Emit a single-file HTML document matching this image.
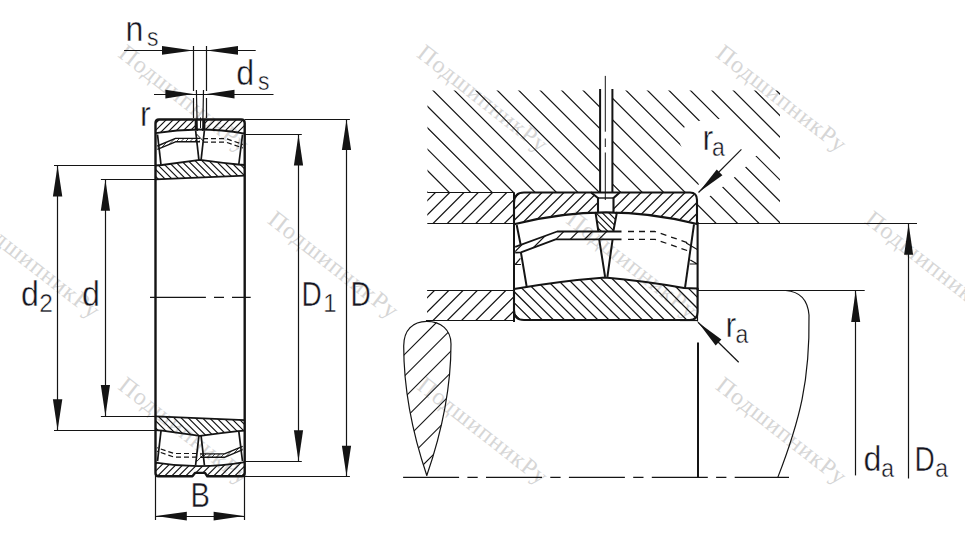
<!DOCTYPE html>
<html><head><meta charset="utf-8"><style>
html,body{margin:0;padding:0;background:#fff;}
svg{display:block;}
text{font-family:"Liberation Sans",sans-serif;fill:#151520;stroke:#fff;stroke-width:0.45px;}
.wm{stroke:none;}
.wm{font-family:"Liberation Serif",serif;fill:#d6d6d6;}
</style></head><body>
<svg width="965" height="537" viewBox="0 0 965 537">
<rect width="965" height="537" fill="#fff"/>
<defs><clipPath id="c1"><path d="M155.5 119.5 H195.6 V131 Q200 129.5 204.4 131 V119.5 H244.7 V133.6 Q200 125.65 155.5 133.1 Z"/></clipPath>
<clipPath id="c2"><path d="M155.5 476.20 H192.4 L195 472.70 H205 L207.3 476.20 H244.7 V462.10 Q200 470.05 155.5 462.60 Z"/></clipPath>
<clipPath id="c3"><path d="M155.5 165.5 L162 165 Q180 162.5 200 159.8 Q220 162.5 238 164.5 L244.7 165 V175.6 L155.5 179.4 Z"/></clipPath>
<clipPath id="c4"><path d="M155.5 430.20 L162 430.70 Q180 433.20 200 435.90 Q220 433.20 238 431.20 L244.7 430.70 V420.10 L155.5 416.30 Z"/></clipPath>
<clipPath id="c5"><path d="M157.3 146 L175.5 138.4 H200 V141.8 H175.5 L157.3 149.4 Z"/></clipPath>
<clipPath id="c6"><path d="M242.7 449.7 L224.5 457.3 H200 V453.9 H224.5 L242.7 446.3 Z"/></clipPath>
<clipPath id="c7"><path clip-rule="evenodd" d="M427.5 90.5 H600.1 V192.3 H427.5 Z M612.4 90.5 H780 V223.5 H697 V192.3 H612.4 Z M699 184.2 L680.2 144.3 L684.5 126.8 L699.6 120.7 L719.6 118.9 L725 113 L766 154 L755.6 156.1 L745.6 167 L734.7 177 L723.2 186.6 L710.5 195.7 L704 199 L694 189 Z"/></clipPath>
<clipPath id="c8"><path d="M427.3 192.3 H514 V223.3 H427.3 Z"/></clipPath>
<clipPath id="c9"><path d="M427.1 290.1 H514 V320.8 H427.1 Z"/></clipPath>
<clipPath id="c10"><path d="M514 224.3 V203 Q514 192.5 524 192.5 H591 L598 198 V212.6 Q605.5 211.5 613.5 212.6 V198 L619.7 192.5 H690 Q697 192.5 697 200 V224 Q605.5 200.55 514 224.3 Z"/></clipPath>
<clipPath id="c11"><path d="M514 289 Q560 281 605 277.5 Q645 281 684 288 L697.6 288.5 V312 Q697.6 320 689.6 320 H524 Q514 320 514 310 Z"/></clipPath>
<clipPath id="c12"><path d="M595.4 212 L617 212 L613.3 231.5 L598.4 231.5 Z"/></clipPath>
<clipPath id="c13"><path d="M515.2 246.9 L557.2 231.5 H621.5 V239.3 H555.6 L520.9 252.3 L515.2 252.6 Z"/></clipPath>
<clipPath id="c14"><path d="M426.7 321.3 C441 321.3 451 330 451 344 C451 380 446 420 426.8 475.5 C408 420 403.7 380 403.7 346 C403.7 330 413 321.3 426.7 321.3 Z"/></clipPath></defs>
<text class="wm" font-size="24" letter-spacing="1.0" transform="translate(117.0 56.1) rotate(38)">ПодшипникРу</text>
<text class="wm" font-size="24" letter-spacing="1.0" transform="translate(415.7 56.1) rotate(38)">ПодшипникРу</text>
<text class="wm" font-size="24" letter-spacing="1.0" transform="translate(714.4 56.1) rotate(38)">ПодшипникРу</text>
<text class="wm" font-size="24" letter-spacing="1.0" transform="translate(-32.3 222.2) rotate(38)">ПодшипникРу</text>
<text class="wm" font-size="24" letter-spacing="1.0" transform="translate(266.4 222.2) rotate(38)">ПодшипникРу</text>
<text class="wm" font-size="24" letter-spacing="1.0" transform="translate(565.0 222.2) rotate(38)">ПодшипникРу</text>
<text class="wm" font-size="24" letter-spacing="1.0" transform="translate(863.8 222.2) rotate(38)">ПодшипникРу</text>
<text class="wm" font-size="24" letter-spacing="1.0" transform="translate(117.0 388.3) rotate(38)">ПодшипникРу</text>
<text class="wm" font-size="24" letter-spacing="1.0" transform="translate(415.7 388.3) rotate(38)">ПодшипникРу</text>
<text class="wm" font-size="24" letter-spacing="1.0" transform="translate(714.4 388.3) rotate(38)">ПодшипникРу</text>
<path clip-path="url(#c1)" d="M150.00 108.00L250.00 8.00M150.00 115.00L250.00 15.00M150.00 122.00L250.00 22.00M150.00 129.00L250.00 29.00M150.00 136.00L250.00 36.00M150.00 143.00L250.00 43.00M150.00 150.00L250.00 50.00M150.00 157.00L250.00 57.00M150.00 164.00L250.00 64.00M150.00 171.00L250.00 71.00M150.00 178.00L250.00 78.00M150.00 185.00L250.00 85.00M150.00 192.00L250.00 92.00M150.00 199.00L250.00 99.00M150.00 206.00L250.00 106.00M150.00 213.00L250.00 113.00M150.00 220.00L250.00 120.00M150.00 227.00L250.00 127.00M150.00 234.00L250.00 134.00M150.00 241.00L250.00 141.00" stroke="#141414" stroke-width="1.15" fill="none" />
<path clip-path="url(#c2)" d="M150.00 448.70L250.00 348.70M150.00 455.70L250.00 355.70M150.00 462.70L250.00 362.70M150.00 469.70L250.00 369.70M150.00 476.70L250.00 376.70M150.00 483.70L250.00 383.70M150.00 490.70L250.00 390.70M150.00 497.70L250.00 397.70M150.00 504.70L250.00 404.70M150.00 511.70L250.00 411.70M150.00 518.70L250.00 418.70M150.00 525.70L250.00 425.70M150.00 532.70L250.00 432.70M150.00 539.70L250.00 439.70M150.00 546.70L250.00 446.70M150.00 553.70L250.00 453.70M150.00 560.70L250.00 460.70M150.00 567.70L250.00 467.70M150.00 574.70L250.00 474.70M150.00 581.70L250.00 481.70" stroke="#141414" stroke-width="1.15" fill="none" />
<path clip-path="url(#c3)" d="M150.00 53.50L250.00 153.50M150.00 60.40L250.00 160.40M150.00 67.30L250.00 167.30M150.00 74.20L250.00 174.20M150.00 81.10L250.00 181.10M150.00 88.00L250.00 188.00M150.00 94.90L250.00 194.90M150.00 101.80L250.00 201.80M150.00 108.70L250.00 208.70M150.00 115.60L250.00 215.60M150.00 122.50L250.00 222.50M150.00 129.40L250.00 229.40M150.00 136.30L250.00 236.30M150.00 143.20L250.00 243.20M150.00 150.10L250.00 250.10M150.00 157.00L250.00 257.00M150.00 163.90L250.00 263.90M150.00 170.80L250.00 270.80M150.00 177.70L250.00 277.70M150.00 184.60L250.00 284.60M150.00 191.50L250.00 291.50" stroke="#141414" stroke-width="1.15" fill="none" />
<path clip-path="url(#c4)" d="M150.00 308.60L250.00 408.60M150.00 315.70L250.00 415.70M150.00 322.80L250.00 422.80M150.00 329.90L250.00 429.90M150.00 337.00L250.00 437.00M150.00 344.10L250.00 444.10M150.00 351.20L250.00 451.20M150.00 358.30L250.00 458.30M150.00 365.40L250.00 465.40M150.00 372.50L250.00 472.50M150.00 379.60L250.00 479.60M150.00 386.70L250.00 486.70M150.00 393.80L250.00 493.80M150.00 400.90L250.00 500.90M150.00 408.00L250.00 508.00M150.00 415.10L250.00 515.10M150.00 422.20L250.00 522.20M150.00 429.30L250.00 529.30M150.00 436.40L250.00 536.40M150.00 443.50L250.00 543.50" stroke="#141414" stroke-width="1.15" fill="none" />
<path d="M155.5 300 V123 Q155.5 119.5 159 119.5 H241.2 Q244.7 119.5 244.7 123 V300 M195.9 119.5 V130 M204.2 119.5 V130" stroke="#141414" stroke-width="2.4" fill="none" stroke-linejoin="round" />
<path d="M155.5 300 V473.2 Q155.5 476.2 158.5 476.2 H192.4 L195 472.9 H205 L207.3 476.2 H241.7 Q244.7 476.2 244.7 473.2 V300" stroke="#141414" stroke-width="2.4" fill="none" stroke-linejoin="round" />
<path d="M155.5 133.1 Q200 125.65 244.7 133.6" stroke="#141414" stroke-width="1.8" fill="none" stroke-linejoin="round" />
<path d="M155.5 462.60 Q200 470.05 244.7 462.10" stroke="#141414" stroke-width="1.8" fill="none" stroke-linejoin="round" />
<path d="M155.5 165.5 L162 165 Q180 162.5 200 159.8 Q220 162.5 238 164.5 L244.7 165" stroke="#141414" stroke-width="1.8" fill="none" stroke-linejoin="round" />
<path d="M155.5 179.4 L244.7 175.6" stroke="#141414" stroke-width="1.8" fill="none" stroke-linejoin="round" />
<path d="M155.5 430.20 L162 430.70 Q180 433.20 200 435.90 Q220 433.20 238 431.20 L244.7 430.70" stroke="#141414" stroke-width="1.8" fill="none" stroke-linejoin="round" />
<path d="M155.5 416.30 L244.7 420.10" stroke="#141414" stroke-width="1.8" fill="none" stroke-linejoin="round" />
<line x1="157.50" y1="134.50" x2="161.00" y2="164.80" stroke="#141414" stroke-width="1.7" />
<line x1="157.50" y1="461.20" x2="161.00" y2="430.90" stroke="#141414" stroke-width="1.7" />
<line x1="195.60" y1="130.50" x2="198.90" y2="159.80" stroke="#141414" stroke-width="1.7" />
<line x1="195.60" y1="465.20" x2="198.90" y2="435.90" stroke="#141414" stroke-width="1.7" />
<line x1="204.40" y1="130.50" x2="201.10" y2="159.80" stroke="#141414" stroke-width="1.7" />
<line x1="204.40" y1="465.20" x2="201.10" y2="435.90" stroke="#141414" stroke-width="1.7" />
<line x1="242.50" y1="134.70" x2="238.80" y2="164.40" stroke="#141414" stroke-width="1.7" />
<line x1="242.50" y1="461.00" x2="238.80" y2="431.30" stroke="#141414" stroke-width="1.7" />
<line x1="196.50" y1="134.00" x2="203.80" y2="141.50" stroke="#141414" stroke-width="1.0" />
<line x1="196.50" y1="461.70" x2="203.80" y2="454.20" stroke="#141414" stroke-width="1.0" />
<line x1="200.50" y1="117.50" x2="200.50" y2="128.00" stroke="#141414" stroke-width="1.0" />
<path d="M157.3 146 L175.5 138.4 H200" stroke="#141414" stroke-width="1.4" fill="none" stroke-linejoin="round" />
<path d="M157.3 149.4 L175.5 141.8 H200" stroke="#141414" stroke-width="1.4" fill="none" stroke-linejoin="round" />
<path clip-path="url(#c5)" d="M155.00 131.50L202.00 84.50M155.00 136.00L202.00 89.00M155.00 140.50L202.00 93.50M155.00 145.00L202.00 98.00M155.00 149.50L202.00 102.50M155.00 154.00L202.00 107.00M155.00 158.50L202.00 111.50M155.00 163.00L202.00 116.00M155.00 167.50L202.00 120.50M155.00 172.00L202.00 125.00M155.00 176.50L202.00 129.50M155.00 181.00L202.00 134.00M155.00 185.50L202.00 138.50M155.00 190.00L202.00 143.00M155.00 194.50L202.00 147.50M155.00 199.00L202.00 152.00" stroke="#141414" stroke-width="0.8" fill="none" />
<path d="M203 138.6 H226 L243 144.5" stroke="#141414" stroke-width="1.2" fill="none" stroke-linejoin="round" stroke-dasharray="5 3"/>
<path d="M203 142.2 H226 L243 148" stroke="#141414" stroke-width="1.2" fill="none" stroke-linejoin="round" stroke-dasharray="5 3"/>
<g transform="rotate(180 200 297.85)">
<path d="M157.3 146 L175.5 138.4 H200" stroke="#141414" stroke-width="1.4" fill="none" stroke-linejoin="round" />
<path d="M157.3 149.4 L175.5 141.8 H200" stroke="#141414" stroke-width="1.4" fill="none" stroke-linejoin="round" />
<path d="M203 138.6 H226 L243 144.5" stroke="#141414" stroke-width="1.2" fill="none" stroke-linejoin="round" stroke-dasharray="5 3"/>
<path d="M203 142.2 H226 L243 148" stroke="#141414" stroke-width="1.2" fill="none" stroke-linejoin="round" stroke-dasharray="5 3"/>
</g>
<path clip-path="url(#c6)" d="M195.00 438.00L245.00 388.00M195.00 442.50L245.00 392.50M195.00 447.00L245.00 397.00M195.00 451.50L245.00 401.50M195.00 456.00L245.00 406.00M195.00 460.50L245.00 410.50M195.00 465.00L245.00 415.00M195.00 469.50L245.00 419.50M195.00 474.00L245.00 424.00M195.00 478.50L245.00 428.50M195.00 483.00L245.00 433.00M195.00 487.50L245.00 437.50M195.00 492.00L245.00 442.00M195.00 496.50L245.00 446.50M195.00 501.00L245.00 451.00M195.00 505.50L245.00 455.50M195.00 510.00L245.00 460.00" stroke="#141414" stroke-width="0.8" fill="none" />
<path d="M150 297.4 H205.9 M214 297.4 H224 M232 297.4 H250.7" stroke="#141414" stroke-width="1.1" fill="none" stroke-linejoin="round" />
<line x1="124.10" y1="50.50" x2="255.70" y2="50.50" stroke="#141414" stroke-width="1.2" />
<path d="M193.30 50.40L162.00 46.10L162.00 54.70Z" fill="#141414"/>
<path d="M206.60 50.40L238.00 54.70L238.00 46.10Z" fill="#141414"/>
<path d="M193.5 46 V90.9 M193.5 98 V118 M206.5 46 V90.9 M206.5 98 V118" stroke="#141414" stroke-width="1.2" fill="none" stroke-linejoin="round" />
<line x1="154.00" y1="94.50" x2="273.50" y2="94.50" stroke="#141414" stroke-width="1.2" />
<path d="M193.20 94.10L165.40 89.80L165.40 98.40Z" fill="#141414"/>
<path d="M206.80 94.10L234.50 98.40L234.50 89.80Z" fill="#141414"/>
<path d="M196.4 90 L197.3 131 M203.5 90 L202.7 131" stroke="#141414" stroke-width="1.2" fill="none" stroke-linejoin="round" />
<line x1="54.00" y1="165.50" x2="155.50" y2="165.50" stroke="#141414" stroke-width="1.2" />
<line x1="54.00" y1="430.50" x2="155.50" y2="430.50" stroke="#141414" stroke-width="1.2" />
<line x1="57.50" y1="165.30" x2="57.50" y2="430.40" stroke="#141414" stroke-width="1.2" />
<path d="M57.60 165.50L52.90 196.50L62.30 196.50Z" fill="#141414"/>
<path d="M57.60 430.20L62.30 399.20L52.90 399.20Z" fill="#141414"/>
<line x1="100.90" y1="179.50" x2="155.50" y2="179.50" stroke="#141414" stroke-width="1.2" />
<line x1="100.90" y1="416.50" x2="155.50" y2="416.50" stroke="#141414" stroke-width="1.2" />
<line x1="105.50" y1="179.60" x2="105.50" y2="416.20" stroke="#141414" stroke-width="1.2" />
<path d="M105.40 179.80L100.80 210.80L110.00 210.80Z" fill="#141414"/>
<path d="M105.40 416.00L110.00 385.00L100.80 385.00Z" fill="#141414"/>
<line x1="244.70" y1="134.50" x2="301.80" y2="134.50" stroke="#141414" stroke-width="1.2" />
<line x1="244.70" y1="461.50" x2="301.80" y2="461.50" stroke="#141414" stroke-width="1.2" />
<line x1="298.50" y1="134.30" x2="298.50" y2="461.40" stroke="#141414" stroke-width="1.2" />
<path d="M298.50 134.50L293.90 165.40L303.10 165.40Z" fill="#141414"/>
<path d="M298.50 461.20L303.10 430.30L293.90 430.30Z" fill="#141414"/>
<line x1="244.70" y1="119.50" x2="349.90" y2="119.50" stroke="#141414" stroke-width="1.2" />
<line x1="244.70" y1="476.50" x2="349.90" y2="476.50" stroke="#141414" stroke-width="1.2" />
<line x1="346.50" y1="119.40" x2="346.50" y2="476.30" stroke="#141414" stroke-width="1.2" />
<path d="M346.50 119.60L341.90 149.90L351.10 149.90Z" fill="#141414"/>
<path d="M346.50 476.10L351.10 445.80L341.90 445.80Z" fill="#141414"/>
<line x1="155.50" y1="476.00" x2="155.50" y2="520.00" stroke="#141414" stroke-width="1.2" />
<line x1="244.50" y1="476.00" x2="244.50" y2="520.00" stroke="#141414" stroke-width="1.2" />
<line x1="155.60" y1="516.50" x2="244.30" y2="516.50" stroke="#141414" stroke-width="1.2" />
<path d="M155.80 516.10L186.80 520.45L186.80 511.75Z" fill="#141414"/>
<path d="M244.10 516.10L213.60 511.75L213.60 520.45Z" fill="#141414"/>
<text transform="translate(125.50 40.70) scale(0.92 1)" font-size="35">n</text>
<text transform="translate(147.00 45.60) scale(0.9 1)" font-size="25.5">s</text>
<text transform="translate(236.20 84.80) scale(0.92 1)" font-size="35">d</text>
<text transform="translate(258.00 90.40) scale(0.9 1)" font-size="25.5">s</text>
<text transform="translate(140.00 125.60) scale(0.92 1)" font-size="35">r</text>
<text transform="translate(21.00 306.00) scale(0.92 1)" font-size="35">d</text>
<text transform="translate(39.30 311.70) scale(0.96 1)" font-size="25.5">2</text>
<text transform="translate(82.00 306.00) scale(0.92 1)" font-size="35">d</text>
<text transform="translate(301.50 305.80) scale(0.8 1)" font-size="35">D</text>
<text transform="translate(323.20 311.90) scale(0.94 1)" font-size="25.5">1</text>
<text transform="translate(350.50 305.80) scale(0.8 1)" font-size="35">D</text>
<text transform="translate(190.50 507.40) scale(0.83 1)" font-size="35">B</text>
<path clip-path="url(#c7)" d="M400.00 529.30L800.00 929.30M400.00 507.85L800.00 907.85M400.00 486.40L800.00 886.40M400.00 464.95L800.00 864.95M400.00 443.50L800.00 843.50M400.00 422.05L800.00 822.05M400.00 400.60L800.00 800.60M400.00 379.15L800.00 779.15M400.00 357.70L800.00 757.70M400.00 336.25L800.00 736.25M400.00 314.80L800.00 714.80M400.00 293.35L800.00 693.35M400.00 271.90L800.00 671.90M400.00 250.45L800.00 650.45M400.00 229.00L800.00 629.00M400.00 207.55L800.00 607.55M400.00 186.10L800.00 586.10M400.00 164.65L800.00 564.65M400.00 143.20L800.00 543.20M400.00 121.75L800.00 521.75M400.00 100.30L800.00 500.30M400.00 78.85L800.00 478.85M400.00 57.40L800.00 457.40M400.00 35.95L800.00 435.95M400.00 14.50L800.00 414.50M400.00 -6.95L800.00 393.05M400.00 -28.40L800.00 371.60M400.00 -49.85L800.00 350.15M400.00 -71.30L800.00 328.70M400.00 -92.75L800.00 307.25M400.00 -114.20L800.00 285.80M400.00 -135.65L800.00 264.35M400.00 -157.10L800.00 242.90M400.00 -178.55L800.00 221.45M400.00 -200.00L800.00 200.00M400.00 -221.45L800.00 178.55M400.00 -242.90L800.00 157.10M400.00 -264.35L800.00 135.65M400.00 -285.80L800.00 114.20M400.00 -307.25L800.00 92.75M400.00 -328.70L800.00 71.30M400.00 -350.15L800.00 49.85M400.00 -371.60L800.00 28.40M400.00 -393.05L800.00 6.95M400.00 -414.50L800.00 -14.50M400.00 -435.95L800.00 -35.95M400.00 -457.40L800.00 -57.40M400.00 -478.85L800.00 -78.85M400.00 -500.30L800.00 -100.30M400.00 -521.75L800.00 -121.75M400.00 -543.20L800.00 -143.20M400.00 -564.65L800.00 -164.65M400.00 -586.10L800.00 -186.10M400.00 -607.55L800.00 -207.55M400.00 -629.00L800.00 -229.00M400.00 -650.45L800.00 -250.45M400.00 -671.90L800.00 -271.90M400.00 -693.35L800.00 -293.35M400.00 -714.80L800.00 -314.80M400.00 -736.25L800.00 -336.25" stroke="#141414" stroke-width="1.2" fill="none"/>
<path d="M600.1 88.9 V192.3 M612.4 88.9 V192.3" stroke="#141414" stroke-width="2.0" fill="none" stroke-linejoin="round" />
<path d="M605.3 75.9 V131.7 M605.3 138.5 V147 M605.3 152.5 V200" stroke="#141414" stroke-width="1.0" fill="none" stroke-linejoin="round" />
<line x1="427.30" y1="192.50" x2="514.00" y2="192.50" stroke="#141414" stroke-width="1.2" />
<line x1="427.30" y1="223.50" x2="514.00" y2="223.50" stroke="#141414" stroke-width="1.2" />
<path clip-path="url(#c8)" d="M420.00 179.46L520.00 79.46M420.00 193.72L520.00 93.72M420.00 207.98L520.00 107.98M420.00 222.24L520.00 122.24M420.00 236.50L520.00 136.50M420.00 250.76L520.00 150.76M420.00 265.02L520.00 165.02M420.00 279.28L520.00 179.28M420.00 293.54L520.00 193.54M420.00 307.80L520.00 207.80M420.00 322.06L520.00 222.06M420.00 336.32L520.00 236.32" stroke="#141414" stroke-width="1.25" fill="none" />
<line x1="427.10" y1="290.50" x2="514.00" y2="290.50" stroke="#141414" stroke-width="1.2" />
<line x1="426.00" y1="320.50" x2="514.00" y2="320.50" stroke="#141414" stroke-width="1.2" />
<path clip-path="url(#c9)" d="M420.00 276.46L520.00 176.46M420.00 290.72L520.00 190.72M420.00 304.98L520.00 204.98M420.00 319.24L520.00 219.24M420.00 333.50L520.00 233.50M420.00 347.76L520.00 247.76M420.00 362.02L520.00 262.02M420.00 376.28L520.00 276.28M420.00 390.54L520.00 290.54M420.00 404.80L520.00 304.80M420.00 419.06L520.00 319.06M420.00 433.32L520.00 333.32" stroke="#141414" stroke-width="1.25" fill="none" />
<path d="M514 192.3 V322" stroke="#141414" stroke-width="2.0" fill="none" stroke-linejoin="round" />
<path clip-path="url(#c10)" d="M510.00 180.50L700.00 -9.50M510.00 191.50L700.00 1.50M510.00 202.50L700.00 12.50M510.00 213.50L700.00 23.50M510.00 224.50L700.00 34.50M510.00 235.50L700.00 45.50M510.00 246.50L700.00 56.50M510.00 257.50L700.00 67.50M510.00 268.50L700.00 78.50M510.00 279.50L700.00 89.50M510.00 290.50L700.00 100.50M510.00 301.50L700.00 111.50M510.00 312.50L700.00 122.50M510.00 323.50L700.00 133.50M510.00 334.50L700.00 144.50M510.00 345.50L700.00 155.50M510.00 356.50L700.00 166.50M510.00 367.50L700.00 177.50M510.00 378.50L700.00 188.50M510.00 389.50L700.00 199.50M510.00 400.50L700.00 210.50M510.00 411.50L700.00 221.50M510.00 422.50L700.00 232.50" stroke="#141414" stroke-width="1.25" fill="none" />
<path d="M514 224.3 V203 Q514 192.5 524 192.5 H591 L598 198 V212.6 M613.5 212.6 V198 L619.7 192.5 H690 Q697 192.5 697 200 V224 Q605.5 200.55 514 224.3" stroke="#141414" stroke-width="2.1" fill="none" stroke-linejoin="round" />
<path d="M598 198 H613.5" stroke="#141414" stroke-width="1.4" fill="none" stroke-linejoin="round" />
<path d="M591 192.5 H620" stroke="#141414" stroke-width="2.0" fill="none" stroke-linejoin="round" />
<line x1="697.00" y1="192.50" x2="780.00" y2="192.50" stroke="#141414" stroke-width="0.0" />
<path clip-path="url(#c11)" d="M510.00 76.60L700.00 266.60M510.00 87.70L700.00 277.70M510.00 98.80L700.00 288.80M510.00 109.90L700.00 299.90M510.00 121.00L700.00 311.00M510.00 132.10L700.00 322.10M510.00 143.20L700.00 333.20M510.00 154.30L700.00 344.30M510.00 165.40L700.00 355.40M510.00 176.50L700.00 366.50M510.00 187.60L700.00 377.60M510.00 198.70L700.00 388.70M510.00 209.80L700.00 399.80M510.00 220.90L700.00 410.90M510.00 232.00L700.00 422.00M510.00 243.10L700.00 433.10M510.00 254.20L700.00 444.20M510.00 265.30L700.00 455.30M510.00 276.40L700.00 466.40M510.00 287.50L700.00 477.50M510.00 298.60L700.00 488.60M510.00 309.70L700.00 499.70M510.00 320.80L700.00 510.80M510.00 331.90L700.00 521.90" stroke="#141414" stroke-width="1.25" fill="none" />
<path d="M514 289 Q560 281 605 277.5 Q645 281 684 288 L697.6 288.5 V312 Q697.6 320 689.6 320 H524 Q514 320 514 310 Z" stroke="#141414" stroke-width="2.1" fill="none" stroke-linejoin="round" />
<line x1="697.50" y1="288.00" x2="697.50" y2="321.50" stroke="#141414" stroke-width="1.2" />
<line x1="680.00" y1="320.50" x2="697.60" y2="320.50" stroke="#141414" stroke-width="1.2" />
<line x1="697.00" y1="223.50" x2="917.00" y2="223.50" stroke="#141414" stroke-width="1.2" />
<line x1="697.00" y1="290.50" x2="864.70" y2="290.50" stroke="#141414" stroke-width="1.2" />
<path d="M516.7 225 L520.6 244.5 M520.9 252.3 L526.8 287.4" stroke="#141414" stroke-width="2.0" fill="none" stroke-linejoin="round" />
<path d="M595.4 211.9 L598.4 231.5 M599.2 239.3 L605.1 276.8" stroke="#141414" stroke-width="2.0" fill="none" stroke-linejoin="round" />
<path d="M617 211.9 L613.3 231.5 M612.6 239.3 L607.4 276.8" stroke="#141414" stroke-width="2.0" fill="none" stroke-linejoin="round" />
<path d="M694 224.3 L685 287.8" stroke="#141414" stroke-width="2.0" fill="none" stroke-linejoin="round" />
<path clip-path="url(#c12)" d="M590.00 174.50L620.00 204.50M590.00 181.00L620.00 211.00M590.00 187.50L620.00 217.50M590.00 194.00L620.00 224.00M590.00 200.50L620.00 230.50M590.00 207.00L620.00 237.00M590.00 213.50L620.00 243.50M590.00 220.00L620.00 250.00M590.00 226.50L620.00 256.50M590.00 233.00L620.00 263.00M590.00 239.50L620.00 269.50" stroke="#141414" stroke-width="1.2" fill="none" />
<path d="M515.2 246.9 L557.2 231.5 H621.5" stroke="#141414" stroke-width="1.8" fill="none" stroke-linejoin="round" />
<path d="M515.2 252.6 Q518 252.3 520.9 252.3 L555.6 239.3 H621.5" stroke="#141414" stroke-width="1.8" fill="none" stroke-linejoin="round" />
<path clip-path="url(#c13)" d="M510.00 213.80L612.00 111.80M510.00 228.10L612.00 126.10M510.00 242.40L612.00 140.40M510.00 256.70L612.00 154.70M510.00 271.00L612.00 169.00M510.00 285.30L612.00 183.30M510.00 299.60L612.00 197.60M510.00 313.90L612.00 211.90M510.00 328.20L612.00 226.20M510.00 342.50L612.00 240.50M510.00 356.80L612.00 254.80M510.00 371.10L612.00 269.10" stroke="#141414" stroke-width="1.2" fill="none" />
<path d="M628 231.5 H655 L690 243.5" stroke="#141414" stroke-width="1.3" fill="none" stroke-linejoin="round" stroke-dasharray="6 5"/>
<path d="M628 239.3 H655 L690 251.5" stroke="#141414" stroke-width="1.3" fill="none" stroke-linejoin="round" stroke-dasharray="6 5"/>
<path d="M514 264.5 H520.9 M515.2 264.5 L520.4 258.3" stroke="#141414" stroke-width="1.2" fill="none" stroke-linejoin="round" />
<path d="M690.3 259.9 L697.3 264 M689.7 264 H697.3 M686.2 243.1 L697.3 249.4" stroke="#141414" stroke-width="1.2" fill="none" stroke-linejoin="round" />
<path d="M697.6 222 V290" stroke="#141414" stroke-width="2.1" fill="none" stroke-linejoin="round" />
<path clip-path="url(#c14)" d="M400.00 316.00L455.00 261.00M400.00 337.50L455.00 282.50M400.00 359.00L455.00 304.00M400.00 380.50L455.00 325.50M400.00 402.00L455.00 347.00M400.00 423.50L455.00 368.50M400.00 445.00L455.00 390.00M400.00 466.50L455.00 411.50M400.00 488.00L455.00 433.00M400.00 509.50L455.00 454.50M400.00 531.00L455.00 476.00M400.00 552.50L455.00 497.50" stroke="#141414" stroke-width="1.2" fill="none" />
<path d="M426.7 321.3 C441 321.3 451 330 451 344 C451 380 446 420 426.8 475.5 C408 420 403.7 380 403.7 346 C403.7 330 413 321.3 426.7 321.3 Z" stroke="#141414" stroke-width="1.2" fill="none" stroke-linejoin="round" />
<path d="M785.7 290.5 Q807 292 809 315 C810 380 800 420 777.8 477.4" stroke="#141414" stroke-width="1.2" fill="none" stroke-linejoin="round" />
<path d="M698 342.6 V477.4" stroke="#141414" stroke-width="2.0" fill="none" stroke-linejoin="round" />
<path d="M403.1 477.4 H459.1M467.4 477.4 H477.7M486.0 477.4 H542.0M550.3 477.4 H560.6M568.9 477.4 H624.9M633.2 477.4 H643.5M651.8 477.4 H707.8M716.1 477.4 H726.4M734.7 477.4 H789.0" stroke="#141414" stroke-width="1.3" fill="none" stroke-linejoin="round" />
<line x1="855.50" y1="290.20" x2="855.50" y2="475.40" stroke="#141414" stroke-width="1.2" />
<path d="M855.70 290.60L851.20 322.00L860.20 322.00Z" fill="#141414"/>
<line x1="908.50" y1="223.50" x2="908.50" y2="478.50" stroke="#141414" stroke-width="1.2" />
<path d="M908.60 223.80L904.10 254.80L913.10 254.80Z" fill="#141414"/>
<line x1="698.50" y1="192.50" x2="741.40" y2="149.40" stroke="#141414" stroke-width="1.2" />
<path d="M698.80 192.20L722.43 175.37L716.77 169.43Z" fill="#141414"/>
<line x1="698.00" y1="322.20" x2="738.70" y2="362.20" stroke="#141414" stroke-width="1.2" />
<path d="M698.30 322.50L715.62 345.41L721.38 339.59Z" fill="#141414"/>
<text transform="translate(702.50 150.20) scale(0.92 1)" font-size="35">r</text>
<text transform="translate(712.00 156.10) scale(0.9 1)" font-size="25.5">a</text>
<text transform="translate(725.50 336.80) scale(0.92 1)" font-size="35">r</text>
<text transform="translate(735.50 343.00) scale(0.9 1)" font-size="25.5">a</text>
<text transform="translate(863.50 471.00) scale(0.92 1)" font-size="35">d</text>
<text transform="translate(881.20 477.30) scale(0.9 1)" font-size="25.5">a</text>
<text transform="translate(914.50 471.00) scale(0.8 1)" font-size="35">D</text>
<text transform="translate(935.20 477.30) scale(0.9 1)" font-size="25.5">a</text>
</svg>
</body></html>
